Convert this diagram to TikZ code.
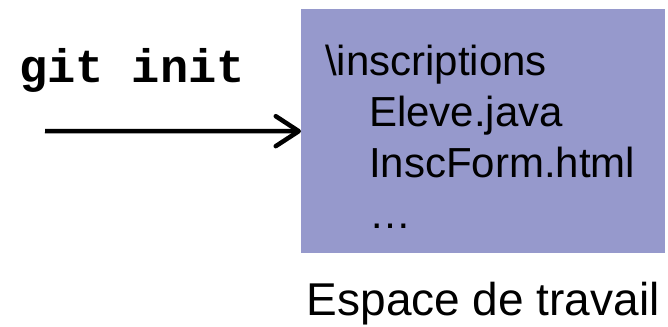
\documentclass[tikz,border=0pt]{standalone}
\usepackage{fontspec}
\setmainfont{Liberation Sans}
\setmonofont{Liberation Mono}
\usetikzlibrary{arrows.meta, positioning, calc}
\definecolor{lavande}{RGB}{150,153,204}

\begin{document}
\begin{tikzpicture}[x=1pt, y=1pt, ->, >={Straight Barb[length=23pt,width=30pt,round]},
  every node/.style = {inner sep=0pt, font=\fontsize{42}{51}\selectfont},
  espace/.style = {fill=lavande, minimum width=364pt, minimum height=244pt, anchor=north west},
  fichiers/.style = {align=left, anchor=north west},
  commande/.style = {font=\fontsize{47}{50}\selectfont\ttfamily\bfseries},
  legende/.style = {font=\fontsize{46}{50}\selectfont}]
  \useasboundingbox (0,0) rectangle (668,-326);
  \node[espace] (espace) at (301,-9) {};
  \node[fichiers] (fichiers) at (325,-45) {\textbackslash inscriptions\\
    \hspace*{44pt}Eleve.java\\
    \hspace*{44pt}InscForm.html\\
    \hspace*{44pt}…};
  \node[commande, anchor=base] (commande) at (132,-83) {git init};
  \coordinate (depart) at (45,-131);
  \draw[line width=4.5pt] (depart) -- (espace.west);
  \node[legende, below=29pt of espace] (legende) {Espace de travail};
\end{tikzpicture}
\end{document}
